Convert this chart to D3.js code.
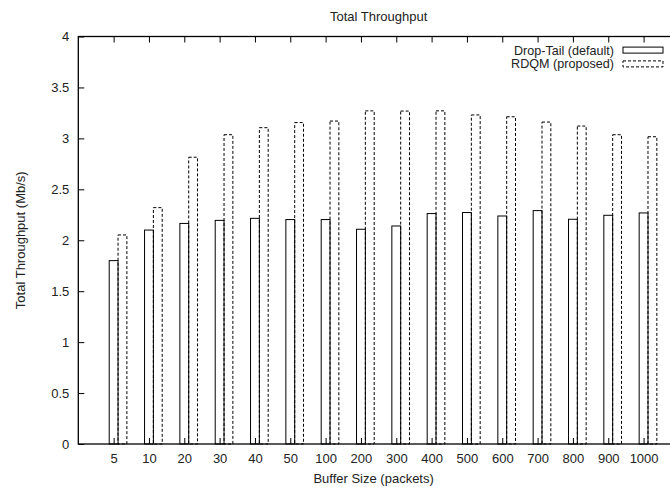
<!DOCTYPE html>
<html>
<head>
<meta charset="utf-8">
<script src="https://cdn.jsdelivr.net/npm/d3@7"></script>
<style>
  html, body { margin: 0; padding: 0; background: #fff; }
  svg { display: block; }
  text { font-family: "Liberation Sans", Arial, Helvetica, sans-serif; fill: #222; }
</style>
</head>
<body>
<script>
const categories = ["5","10","20","30","40","50","100","200","300","400","500","600","700","800","900","1000"];
const dropTail = [1.80, 2.10, 2.165, 2.195, 2.215, 2.203, 2.203, 2.108, 2.14, 2.262, 2.272, 2.238, 2.291, 2.206, 2.245, 2.268];
const rdqm     = [2.052, 2.32, 2.815, 3.036, 3.105, 3.155, 3.17, 3.27, 3.268, 3.27, 3.23, 3.212, 3.16, 3.121, 3.036, 3.016];
const yTicks = [0, 0.5, 1, 1.5, 2, 2.5, 3, 3.5, 4];
const seriesNames = ["Drop-Tail (default)", "RDQM (proposed)"];

const W = 670, H = 487;
const plotLeft = 78.3, plotTop = 36.5, plotBottom = 444, unit = 35.33;
const svg = d3.select("body").append("svg").attr("width", W).attr("height", H);

const x = d3.scaleLinear().domain([-1, 16]).range([plotLeft, plotLeft + 17 * unit]);
const y = d3.scaleLinear().domain([0, 4]).range([plotBottom, plotTop]);
const barW = 0.25;

const g = svg.append("g");

// bars
const series = [
  {vals: dropTail, off: 0, dash: null},
  {vals: rdqm, off: barW, dash: "3,2"}
];
series.forEach(s => {
  g.selectAll(null).data(s.vals).enter().append("rect")
    .attr("x", (d, i) => x(i + s.off - barW / 2))
    .attr("width", x(barW) - x(0))
    .attr("y", d => y(d))
    .attr("height", d => y(0) - y(d))
    .attr("fill", "none")
    .attr("stroke", "#000")
    .attr("stroke-width", 1)
    .attr("stroke-dasharray", s.dash);
});

// axes
const fontSize = 13;
const xAxis = d3.axisBottom(x).tickValues(d3.range(categories.length))
  .tickFormat(i => categories[i]).tickSizeInner(-6).tickSizeOuter(0).tickPadding(10);
const gx = svg.append("g").attr("transform", `translate(0,${plotBottom})`).call(xAxis);
gx.select(".domain").remove();
gx.selectAll("text").attr("font-size", fontSize).attr("fill", "#222");

const xTop = d3.axisTop(x).tickValues(d3.range(categories.length))
  .tickFormat("").tickSizeInner(-6).tickSizeOuter(0);
const gxt = svg.append("g").attr("transform", `translate(0,${plotTop})`).call(xTop);
gxt.select(".domain").remove();

const yAxis = d3.axisLeft(y).tickValues(yTicks).tickFormat(d3.format("~g"))
  .tickSizeInner(-6).tickSizeOuter(0).tickPadding(9);
const gy = svg.append("g").attr("transform", `translate(${plotLeft},0)`).call(yAxis);
gy.select(".domain").remove();
gy.selectAll("text").attr("font-size", fontSize).attr("fill", "#222");

const yRight = d3.axisRight(y).tickValues(yTicks).tickFormat("").tickSizeInner(-6).tickSizeOuter(0);
const gyr = svg.append("g").attr("transform", `translate(${x(16)},0)`).call(yRight);
gyr.select(".domain").remove();

svg.selectAll(".tick line").attr("stroke", "#000");

// frame
svg.append("rect").attr("x", plotLeft).attr("y", plotTop)
  .attr("width", x(16) - plotLeft).attr("height", plotBottom - plotTop)
  .attr("fill", "none").attr("stroke", "#000").attr("stroke-width", 1.3);

// title and labels
const cx = (plotLeft + x(16)) / 2;
svg.append("text").attr("x", cx).attr("y", 21).attr("text-anchor", "middle")
  .attr("font-size", fontSize).text("Total Throughput");
svg.append("text").attr("x", cx - 5).attr("y", 483).attr("text-anchor", "middle")
  .attr("font-size", fontSize).text("Buffer Size (packets)");
svg.append("text").attr("transform", `translate(25,${(plotTop + plotBottom) / 2}) rotate(-90)`)
  .attr("text-anchor", "middle").attr("font-size", fontSize).text("Total Throughput (Mb/s)");

// legend
const leg = svg.append("g");
seriesNames.forEach((name, i) => {
  const ry = 50.3 + i * 13.8;
  leg.append("text").attr("x", 614).attr("y", ry + 4.3).attr("text-anchor", "end")
    .attr("font-size", 12.6).text(name);
  leg.append("rect").attr("x", 623).attr("y", ry - 3.2).attr("width", 40).attr("height", 6)
    .attr("fill", "none").attr("stroke", "#000").attr("stroke-width", 1)
    .attr("stroke-dasharray", series[i].dash);
});
</script>
</body>
</html>
